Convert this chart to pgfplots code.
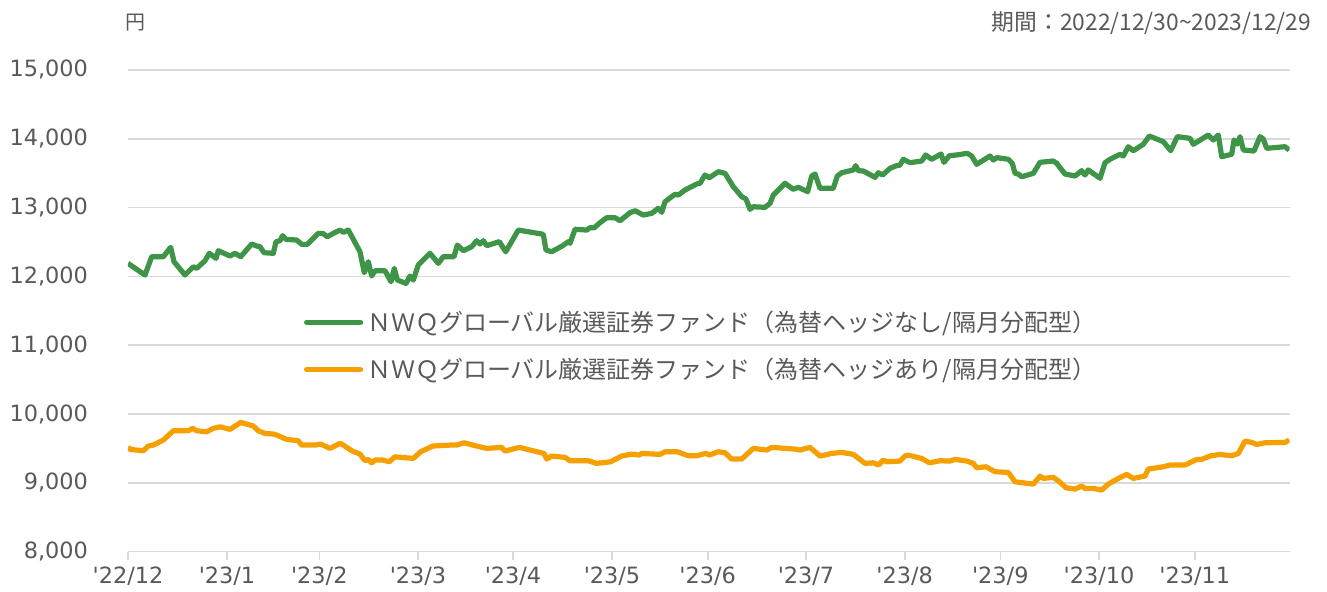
\documentclass[border=0pt]{standalone}
\usepackage{fontspec}
\setmainfont{DejaVu Sans}
\newfontfamily\lat{DejaVu Sans}
\newfontfamily\jp{Noto Sans CJK JP}
\usepackage{pgfplots}
\pgfplotsset{compat=1.18}
\definecolor{fgreen}{HTML}{3E9447}
\definecolor{forange}{HTML}{F5A000}
\definecolor{gridc}{HTML}{D9D9D9}
\definecolor{txt}{HTML}{595959}

% x = trading-day position along the axis (0 = 2022/12/30)
\pgfplotstableread{
x y
0 12190
17 12020
23.7 12287
35.3 12287
42.7 12423
46 12214
57 12020
65.3 12141
68.7 12118
77 12228
81.3 12336
88 12263
90.3 12374
102 12297
107 12336
112.7 12287
123.7 12471
128.7 12442
132 12432
136 12345
145.3 12336
148 12505
152 12519
154.7 12592
158 12539
168.7 12529
173.7 12466
179.3 12466
190.3 12626
194.7 12626
199.3 12577
205.3 12626
212 12674
215.3 12641
220.3 12674
232 12359
236.3 12054
240.3 12214
243.7 12006
247 12083
257 12083
263 11923
266.3 12118
269.3 11948
278 11899
282 12006
285.3 11948
290.3 12166
302 12336
310.3 12190
315.3 12287
326 12287
329.3 12456
335.3 12374
343.7 12432
348.7 12519
352 12471
355.3 12519
358.7 12447
371.3 12505
377.7 12359
390.3 12674
415.3 12612
418 12384
423.7 12359
434.7 12447
440.3 12505
442 12481
447 12685
458.7 12674
462 12708
466.3 12708
472 12781
478.7 12853
487 12853
492 12809
502 12926
507 12955
515.3 12892
523.7 12917
530.3 12990
533.7 12932
537 13086
547 13194
550.3 13183
557 13256
568.7 13343
572 13353
577 13474
581.3 13435
590.3 13522
597 13498
605.3 13304
613.7 13159
618 13125
622 12975
625.3 13013
637 13004
642 13062
645.3 13183
657 13353
665.3 13266
670.3 13295
679.7 13232
683.7 13459
687 13488
692 13280
705.3 13280
709.3 13459
713.7 13507
725.3 13547
727.7 13610
730.3 13537
735.3 13532
747 13440
750.3 13507
754.7 13474
762 13571
768.7 13610
772 13619
775.3 13702
782 13653
793.7 13677
797.7 13765
803.7 13702
813 13779
816 13658
821.3 13755
828.7 13765
839.3 13789
843.7 13750
848.7 13629
862 13750
865.3 13692
868.7 13726
880.3 13702
884.3 13644
887 13498
890.3 13488
893.7 13449
905.3 13498
912 13658
925.3 13677
928.7 13644
937 13488
947 13459
953.7 13537
957 13474
960.3 13547
972 13426
977 13653
982 13702
992 13775
995.3 13750
1000.3 13885
1005.3 13827
1015.3 13920
1021.3 14041
1035.3 13958
1042.7 13827
1049.3 14031
1062 14007
1065.3 13920
1080.3 14055
1085.3 13983
1090.3 14055
1093.7 13740
1103.7 13775
1106 13983
1109.3 13924
1112 14031
1115.3 13837
1126 13822
1132 14031
1135.3 13997
1138.7 13862
1157 13885
1161.3 13837
}\nohedge

\pgfplotstableread{
x y
0 9525
2 9486
15.3 9467
20.3 9535
25.3 9549
35.3 9622
45.3 9757
60.3 9757
64.7 9792
68.7 9757
78.7 9743
85.3 9792
92 9815
102 9777
112.7 9879
125.3 9826
130.3 9757
137 9719
145.3 9709
148.7 9695
158.7 9632
170.3 9612
173.7 9549
187 9549
192.7 9564
202 9501
212 9574
215.3 9549
223.7 9467
232 9418
237 9321
240.3 9341
243.7 9292
247 9331
255.3 9331
261.3 9307
267 9379
285.3 9355
292.7 9452
304.7 9535
322 9549
328.7 9549
336 9583
348.7 9535
358.7 9501
373.7 9516
377 9462
391.3 9516
402 9477
416 9428
418.7 9346
423.7 9390
437 9370
442 9321
460.3 9321
468.7 9283
482.7 9307
493.7 9390
503.7 9418
511.3 9404
513.7 9428
532 9414
537 9452
549.3 9452
560.3 9394
568.7 9394
578 9428
581.3 9404
590.3 9452
597 9438
603.7 9346
613.7 9346
625.3 9501
638.7 9477
643.7 9516
667 9491
672 9477
682 9516
692 9390
703.7 9428
713.7 9443
725.3 9414
737 9283
745.3 9292
750.3 9259
755.3 9331
758.7 9307
772 9317
777 9390
780.3 9404
793.7 9355
801.3 9292
812 9321
822 9317
827 9341
838.7 9317
845.3 9283
848.7 9220
858 9234
867 9162
880.3 9152
887 9016
905.3 8982
912 9099
915.3 9065
925.3 9080
930.3 9030
938 8929
947 8910
953.7 8953
957 8920
965.3 8920
973.7 8895
980.3 8982
990.3 9065
998.7 9123
1005.3 9065
1017 9099
1020.3 9201
1035.3 9234
1042 9259
1057 9259
1068.7 9341
1073.7 9341
1082 9390
1092 9414
1103.7 9394
1110.3 9428
1117 9607
1123.7 9588
1128.7 9559
1137 9583
1157 9588
1161.3 9622
}\hedge

\begin{document}
\begin{tikzpicture}
\useasboundingbox (-64pt,-20.15pt) rectangle (599.5pt,275.85pt);
\begin{axis}[
    scale only axis, width=580.85pt, height=240.85pt,
    xmin=0, xmax=1161.7, ymin=8000, ymax=15000,
    axis x line*=bottom, axis y line*=left,
    x axis line style={draw=gridc, line width=0.8pt},
    y axis line style={draw=none},
    ytick={8000,9000,...,15000},
    ymajorgrids, grid style={gridc, line width=0.8pt},
    ytick style={draw=none},
    xtick={0,99,191.3,290,385,484,579.7,678,776.7,872.3,971,1066.7},
    xticklabels={'22/12,'23/1,'23/2,'23/3,'23/4,'23/5,'23/6,'23/7,'23/8,'23/9,'23/10,'23/11},
    xtick style={draw=gridc, line width=0.8pt},
    tick align=outside, major tick length=4pt,
    /pgf/number format/assume math mode=true,
    /pgf/number format/.cd, 1000 sep={,}, /pgfplots/.cd,
    scaled y ticks=false,
    tick label style={font=\lat\fontsize{11.2}{13}\selectfont, text=txt},
    yticklabel style={anchor=east, xshift=-12.5pt},
    legend style={draw=none, fill=none, at={(0.146,0.427)}, anchor=west,
        font=\jp\fontsize{12}{14}\selectfont, text=txt, row sep=8pt,
        legend cell align=left},
    legend image code/.code={\draw[#1, line width=2.6pt, line cap=round] (0pt,0pt) -- (27pt,0pt);},
]
\addplot[fgreen, line width=2.6pt, line join=round] table {\nohedge};
\addplot[forange, line width=2.6pt, line join=round] table {\hedge};
\legend{ＮＷＱグローバル厳選証券ファンド（為替ヘッジなし/隔月分配型）,
        ＮＷＱグローバル厳選証券ファンド（為替ヘッジあり/隔月分配型）}
\end{axis}
\node[font=\jp\fontsize{10}{12}\selectfont, text=txt] at (3.5pt,264.3pt) {円};
\node[font=\jp\fontsize{11.4}{13}\selectfont, text=txt, anchor=east] at (595pt,264.3pt) {期間：2022/12/30\char"007E 2023/12/29};
\end{tikzpicture}
\end{document}
